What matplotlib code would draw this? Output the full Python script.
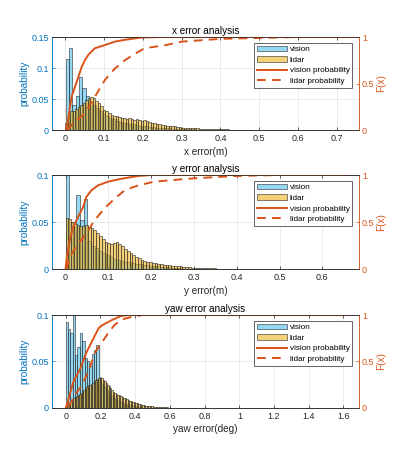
import numpy as np
from matplotlib import pyplot as plt

plt.rcParams['font.family'] = ['Liberation Sans', 'DejaVu Sans']

left_color = '#0072bd'
right_color = '#d95319'
text_color = '#262626'
vision_face = (0.30, 0.75, 0.93, 0.6)
lidar_face = (0.929, 0.694, 0.125, 0.6)

# ---- x error ----
x_vision_start, x_vision_width = 0.002, 0.0085
x_vision_prob = [0.115, 0.132, 0.040, 0.055, 0.086, 0.068, 0.055, 0.045, 0.040, 0.035,
                 0.030, 0.026, 0.022, 0.019, 0.017, 0.015, 0.013, 0.012, 0.011, 0.010,
                 0.009, 0.008, 0.007, 0.006, 0.006, 0.005, 0.005, 0.004, 0.004, 0.003,
                 0.003, 0.003, 0.002, 0.002, 0.002, 0.002, 0.001, 0.001, 0.001]
x_lidar_start, x_lidar_width = 0.0, 0.0065
x_lidar_prob = [0.012, 0.027, 0.030, 0.031, 0.034, 0.037, 0.040, 0.044, 0.048, 0.051,
                0.054, 0.052, 0.047, 0.043, 0.038, 0.033, 0.030, 0.027, 0.025, 0.023,
                0.022, 0.021, 0.020, 0.019, 0.018, 0.019, 0.017, 0.016, 0.017, 0.016,
                0.015, 0.016, 0.014, 0.013, 0.012, 0.011, 0.010, 0.009, 0.008, 0.008,
                0.007, 0.007, 0.006, 0.006, 0.005, 0.005, 0.004, 0.004, 0.004, 0.003,
                0.003, 0.003, 0.003, 0.002, 0.002, 0.002, 0.002, 0.002, 0.002, 0.0015,
                0.0015, 0.0015, 0.001, 0.001, 0.001, 0.0008, 0.0008, 0.0006, 0.0006, 0.0005,
                0.0005, 0.0004, 0.0004, 0.0003, 0.0003, 0.0002, 0.0002]
x_vision_cdf_x = [0.003, 0.0085, 0.017, 0.026, 0.034, 0.043, 0.051, 0.060, 0.077, 0.100,
                  0.128, 0.154, 0.197, 0.25, 0.75]
x_vision_cdf_y = [0.0, 0.14, 0.36, 0.47, 0.57, 0.68, 0.75, 0.81, 0.88, 0.91,
                  0.95, 0.97, 0.995, 1.0, 1.0]
x_lidar_cdf_x = [0.004, 0.026, 0.051, 0.077, 0.103, 0.128, 0.154, 0.180, 0.205, 0.256,
                 0.30, 0.40, 0.50, 0.60, 0.75]
x_lidar_cdf_y = [0.0, 0.09, 0.18, 0.36, 0.54, 0.66, 0.75, 0.82, 0.88, 0.91,
                 0.95, 0.98, 0.99, 1.0, 1.0]

# ---- y error ----
y_vision_start, y_vision_width = 0.0, 0.0085
y_vision_prob = [0.105, 0.050, 0.045, 0.079, 0.052, 0.075, 0.030, 0.025, 0.022, 0.019,
                 0.017, 0.015, 0.013, 0.011, 0.010, 0.009, 0.008, 0.007, 0.006, 0.005,
                 0.005, 0.004, 0.004, 0.003, 0.003, 0.003, 0.002, 0.002, 0.002, 0.001,
                 0.001, 0.001]
y_lidar_start, y_lidar_width = 0.0, 0.0065
y_lidar_prob = [0.054, 0.053, 0.050, 0.048, 0.047, 0.046, 0.046, 0.047, 0.045, 0.044,
                0.041, 0.038, 0.035, 0.032, 0.029, 0.028, 0.027, 0.028, 0.029, 0.027,
                0.024, 0.021, 0.019, 0.017, 0.015, 0.013, 0.012, 0.010, 0.009, 0.008,
                0.007, 0.006, 0.006, 0.005, 0.005, 0.004, 0.004, 0.004, 0.003, 0.003,
                0.003, 0.003, 0.002, 0.002, 0.002, 0.0015, 0.0015, 0.001, 0.001, 0.001,
                0.0008, 0.0008, 0.0006, 0.0006, 0.0005, 0.0005, 0.0005, 0.0004, 0.0004, 0.0003,
                0.0003, 0.0003, 0.0002, 0.0002]
y_vision_cdf_x = [0.0, 0.003, 0.010, 0.018, 0.030, 0.041, 0.049, 0.061, 0.076, 0.100,
                  0.130, 0.170, 0.200, 0.657]
y_vision_cdf_y = [0.0, 0.13, 0.31, 0.45, 0.56, 0.66, 0.77, 0.84, 0.89, 0.93,
                  0.96, 0.99, 1.0, 1.0]
y_lidar_cdf_x = [0.002, 0.010, 0.022, 0.037, 0.053, 0.068, 0.092, 0.115, 0.139, 0.170,
                 0.208, 0.30, 0.40, 0.50, 0.657]
y_lidar_cdf_y = [0.0, 0.13, 0.22, 0.31, 0.41, 0.52, 0.65, 0.75, 0.84, 0.89,
                 0.93, 0.965, 0.99, 1.0, 1.0]

# ---- yaw error ----
yaw_vision_start, yaw_vision_width = 0.0, 0.0135
yaw_vision_prob = [0.092, 0.085, 0.081, 0.104, 0.057, 0.065, 0.081, 0.072, 0.054, 0.050,
                   0.045, 0.058, 0.062, 0.068, 0.030, 0.026, 0.022, 0.019, 0.016, 0.013,
                   0.011, 0.009, 0.007, 0.006, 0.005, 0.004, 0.003, 0.003, 0.002, 0.002,
                   0.001, 0.001]
yaw_lidar_start, yaw_lidar_width = 0.0, 0.0085
yaw_lidar_prob = [0.001, 0.003, 0.005, 0.007, 0.008, 0.010, 0.012, 0.013, 0.014, 0.015,
                  0.016, 0.018, 0.019, 0.021, 0.022, 0.024, 0.025, 0.026, 0.027, 0.029,
                  0.030, 0.031, 0.032, 0.033, 0.032, 0.030, 0.029, 0.027, 0.025, 0.023,
                  0.021, 0.019, 0.017, 0.016, 0.015, 0.014, 0.014, 0.013, 0.012, 0.011,
                  0.010, 0.009, 0.008, 0.007, 0.007, 0.006, 0.006, 0.005, 0.005, 0.004,
                  0.004, 0.003, 0.003, 0.003, 0.002, 0.002, 0.002, 0.0015, 0.0015, 0.001,
                  0.001, 0.001, 0.0008, 0.0008, 0.0006, 0.0005, 0.0004, 0.0003, 0.0003, 0.0002]
yaw_vision_cdf_x = [0.0, 0.006, 0.044, 0.083, 0.12, 0.16, 0.19, 0.21, 0.27, 0.32,
                    0.36, 1.62]
yaw_vision_cdf_y = [0.0, 0.03, 0.28, 0.42, 0.60, 0.75, 0.86, 0.89, 0.95, 0.99,
                    1.0, 1.0]
yaw_lidar_cdf_x = [0.015, 0.054, 0.092, 0.13, 0.17, 0.21, 0.25, 0.28, 0.32, 0.38,
                   0.44, 1.62]
yaw_lidar_cdf_y = [0.01, 0.14, 0.24, 0.39, 0.60, 0.71, 0.82, 0.89, 0.95, 0.98,
                   1.0, 1.0]


def draw_hist(ax, start, width, probs, face, label):
    edges = start + width * np.arange(len(probs))
    ax.bar(edges, probs, width=width, align='edge', color=face,
           edgecolor=text_color, linewidth=0.4, label=label)


def plot_panel(rect, title, xlabel, xlim, xticks, ymax, yticks,
               vision, lidar, vision_cdf, lidar_cdf):
    ax = fig.add_axes(rect)
    draw_hist(ax, *vision, vision_face, 'vision')
    draw_hist(ax, *lidar, lidar_face, 'lidar')
    ax.set_xlim(xlim)
    ax.set_ylim(0, ymax)
    ax.set_xticks(xticks)
    ax.set_yticks(yticks)
    ax.set_xticklabels([f'{t:g}' for t in xticks])
    ax.set_yticklabels([f'{t:g}' for t in yticks])
    ax.grid(True, color='#e3e3e3', linewidth=0.5)
    ax.set_axisbelow(True)
    ax.tick_params(axis='x', direction='in', length=2.5, width=0.5, top=True,
                   labelsize=6.5, colors=text_color, pad=3)
    ax.tick_params(axis='y', direction='in', length=2.5, width=0.5,
                   labelsize=6.5, colors=left_color, pad=2)
    ax.set_title(title, fontsize=7.2, color='black', pad=2)
    ax.set_xlabel(xlabel, fontsize=7.2, color=text_color, labelpad=2.5)
    ax.set_ylabel('probability', fontsize=7.2, color=left_color, labelpad=1.5)

    ax2 = ax.twinx()
    ax2.plot(*vision_cdf, color=right_color, linewidth=1.4, label='vision probability')
    ax2.plot(*lidar_cdf, color=right_color, linewidth=1.4, linestyle=(0, (4.5, 3.2)),
             label='lidar probability')
    ax2.set_ylim(0, 1)
    ax2.set_yticks([0, 0.5, 1])
    ax2.set_yticklabels(['0', '0.5', '1'])
    ax2.tick_params(axis='y', direction='in', length=2.5, width=0.5,
                    labelsize=6.5, colors=right_color, pad=2)
    ax2.set_ylabel('F(x)', fontsize=7.2, color=right_color, labelpad=1.5)

    for a in (ax, ax2):
        a.spines['top'].set_color(text_color)
        a.spines['bottom'].set_color(text_color)
        a.spines['left'].set_color(left_color)
        a.spines['right'].set_color(right_color)
        for s in a.spines.values():
            s.set_linewidth(0.5)

    h1, l1 = ax.get_legend_handles_labels()
    h2, l2 = ax2.get_legend_handles_labels()
    leg = ax2.legend(h1 + h2, l1 + l2, loc='upper right', bbox_to_anchor=(0.977, 0.935),
                     borderaxespad=0, fontsize=5.9, fancybox=False, framealpha=1,
                     edgecolor=text_color, handlelength=3.7, handletextpad=0.3,
                     labelspacing=0.35, borderpad=0.3)
    leg.get_frame().set_linewidth(0.5)


fig = plt.figure(figsize=(3.99, 4.62), dpi=100)

plot_panel([0.130, 0.7186, 0.770, 0.2013], 'x error analysis', 'x error(m)',
           (-0.034, 0.757), [0, 0.1, 0.2, 0.3, 0.4, 0.5, 0.6, 0.7], 0.15, [0, 0.05, 0.1, 0.15],
           (x_vision_start, x_vision_width, x_vision_prob),
           (x_lidar_start, x_lidar_width, x_lidar_prob),
           (x_vision_cdf_x, x_vision_cdf_y), (x_lidar_cdf_x, x_lidar_cdf_y))

plot_panel([0.130, 0.4177, 0.770, 0.2035], 'y error analysis', 'y error(m)',
           (-0.032, 0.686), [0, 0.1, 0.2, 0.3, 0.4, 0.5, 0.6], 0.1, [0, 0.05, 0.1],
           (y_vision_start, y_vision_width, y_vision_prob),
           (y_lidar_start, y_lidar_width, y_lidar_prob),
           (y_vision_cdf_x, y_vision_cdf_y), (y_lidar_cdf_x, y_lidar_cdf_y))

plot_panel([0.130, 0.1175, 0.770, 0.2006], 'yaw error analysis', 'yaw error(deg)',
           (-0.08, 1.69), [0, 0.2, 0.4, 0.6, 0.8, 1, 1.2, 1.4, 1.6], 0.1, [0, 0.05, 0.1],
           (yaw_vision_start, yaw_vision_width, yaw_vision_prob),
           (yaw_lidar_start, yaw_lidar_width, yaw_lidar_prob),
           (yaw_vision_cdf_x, yaw_vision_cdf_y), (yaw_lidar_cdf_x, yaw_lidar_cdf_y))

fig.savefig('out.png', dpi=100)
